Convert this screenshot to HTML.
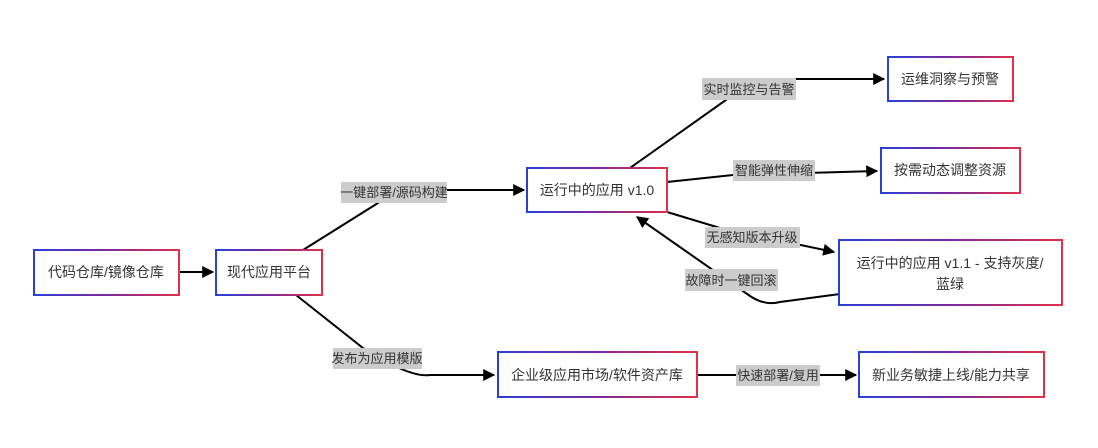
<!DOCTYPE html>
<html><head><meta charset="utf-8"><style>
html,body{margin:0;padding:0;background:#fff;}
svg{display:block;font-family:"Liberation Sans","Noto Sans CJK SC",sans-serif;}
</style></head><body>
<svg width="1098" height="448" viewBox="0 0 1098 448" xmlns="http://www.w3.org/2000/svg">
<defs>
<linearGradient id="g" x1="0" y1="0" x2="1" y2="0">
<stop offset="0" stop-color="#2a3fd6"/><stop offset="0.5" stop-color="#7a2a9a"/><stop offset="1" stop-color="#e0304a"/>
</linearGradient>
<marker id="a" viewBox="0 0 10 10" refX="9" refY="5" markerWidth="7" markerHeight="7" orient="auto-start-reverse" markerUnits="userSpaceOnUse">
<path d="M0,0 L10,5 L0,10 z" fill="#000"/></marker>
<marker id="b" viewBox="0 0 10 10" refX="9" refY="5" markerWidth="12" markerHeight="12" orient="auto" markerUnits="userSpaceOnUse">
<path d="M0,0 L10,5 L0,10 z" fill="#000"/></marker>
</defs>
<g fill="none" stroke="#000" stroke-width="2">
<path d="M179,272 L213,272" marker-end="url(#b)"/>
<path d="M303,250 L378,203 L394,190 L524,190" marker-end="url(#b)"/>
<path d="M296,295 L363,348 Q410,378 430,375 L494,375" marker-end="url(#b)"/>
<path d="M630,168 L740,90 Q750,79 770,79 L884,79" marker-end="url(#b)"/>
<path d="M667,182 L733,175 L877,171" marker-end="url(#b)"/>
<path d="M667,212 L720,228 L834,252" marker-end="url(#b)"/>
<path d="M840,294 L780,302 Q765,306 750,296 L637,217" marker-end="url(#b)"/>
<path d="M697,375 L856,375" marker-end="url(#b)"/>
</g>
<g fill="#fff" stroke="url(#g)" stroke-width="2">
<rect x="34" y="250" width="145" height="45"/>
<rect x="216" y="250" width="106" height="45"/>
<rect x="527" y="168" width="140" height="44"/>
<rect x="888" y="57" width="125" height="44"/>
<rect x="881" y="148" width="139" height="45"/>
<rect x="839" y="240" width="223" height="65"/>
<rect x="498" y="352" width="199" height="45"/>
<rect x="859" y="352" width="185" height="45"/>
</g>
<g fill="#ccc">
<rect x="341" y="182" width="106" height="21"/>
<rect x="333" y="348" width="89" height="21"/>
<rect x="702" y="78" width="94" height="22"/>
<rect x="733" y="160" width="82" height="21"/>
<rect x="705" y="227" width="95" height="21"/>
<rect x="685" y="269" width="93" height="22"/>
<rect x="736" y="365" width="84" height="21"/>
</g>
<g font-size="13" fill="#333" text-anchor="middle">
<text x="394" y="197">一键部署/源码构建</text>
<text x="377" y="363">发布为应用模版</text>
<text x="749" y="94">实时监控与告警</text>
<text x="774" y="175">智能弹性伸缩</text>
<text x="752" y="242">无感知版本升级</text>
<text x="731" y="285">故障时一键回滚</text>
<text x="778" y="380">快速部署/复用</text>
</g>
<g font-size="14" fill="#333" text-anchor="middle">
<text x="106" y="277">代码仓库/镜像仓库</text>
<text x="269" y="277">现代应用平台</text>
<text x="597" y="195">运行中的应用 v1.0</text>
<text x="950" y="84">运维洞察与预警</text>
<text x="950" y="175">按需动态调整资源</text>
<text x="950" y="268">运行中的应用 v1.1 - 支持灰度/</text>
<text x="950" y="289">蓝绿</text>
<text x="597" y="380">企业级应用市场/软件资产库</text>
<text x="951" y="380">新业务敏捷上线/能力共享</text>
</g>
</svg>
</body></html>
